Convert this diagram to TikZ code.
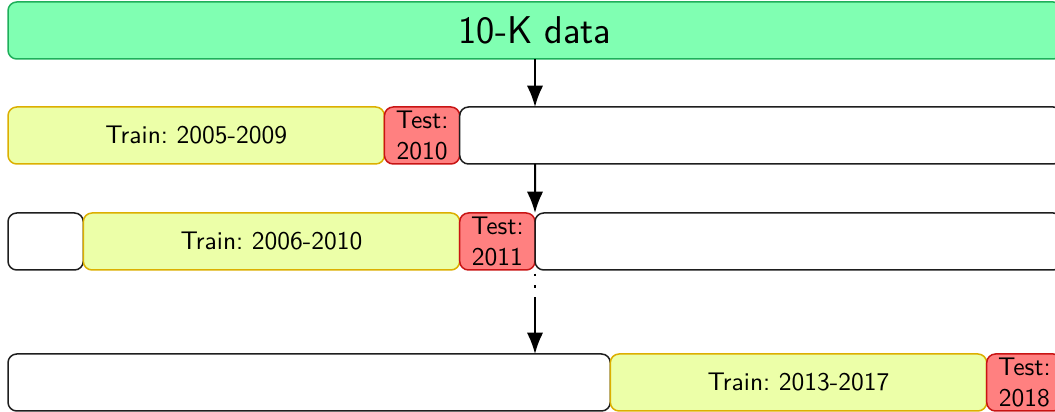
\documentclass[tikz,border=0pt]{standalone}
\usetikzlibrary{arrows.meta}
\definecolor{gfill}{RGB}{128,255,178}
\definecolor{gdraw}{RGB}{30,175,90}
\definecolor{yfill}{RGB}{236,255,168}
\definecolor{ydraw}{RGB}{220,175,0}
\definecolor{rfill}{RGB}{255,128,128}
\definecolor{rdraw}{RGB}{200,20,20}
\definecolor{kdraw}{RGB}{30,30,30}
\begin{document}
\frenchspacing
\begin{tikzpicture}[x=0.4pt,y=-0.4pt,
  box/.style={rectangle,rounded corners=3.5pt,line width=0.6pt,inner sep=0pt,outer sep=0pt,
    anchor=north west,minimum height=22.8pt,font=\sffamily\fontsize{10.2}{12.4}\selectfont,align=center},
  top/.style={box,fill=gfill,draw=gdraw,minimum width=421.6pt,font=\sffamily\fontsize{15.5}{18}\selectfont},
  trainbox/.style={box,fill=yfill,draw=ydraw,minimum width=150.57pt},
  testbox/.style={box,fill=rfill,draw=rdraw,minimum width=30.114pt},
  restbox/.style={box,fill=white,draw=kdraw,minimum width=#1*30.114pt},
  arr/.style={line width=0.8pt,-{Latex[length=8.5pt,width=6.5pt]}},
  dotline/.style={line width=1.1pt,dash pattern=on 1pt off 3.7pt}]
\useasboundingbox (0,0) rectangle (1055,412);
\node[top] (data) at (8,2) {10-K data};
% row 1
\node[trainbox] (r1a) at (8,107) {Train: 2005-2009};
\node[testbox] (r1b) at (r1a.north east) {Test:\\2010};
\node[restbox=8] (r1c) at (r1b.north east) {};
% row 2
\node[restbox=1] (r2a) at (8,213) {};
\node[trainbox] (r2b) at (r2a.north east) {Train: 2006-2010};
\node[testbox] (r2c) at (r2b.north east) {Test:\\2011};
\node[restbox=7] (r2d) at (r2c.north east) {};
% row 3
\node[restbox=8] (r3a) at (8,354) {};
\node[trainbox] (r3b) at (r3a.north east) {Train: 2013-2017};
\node[testbox] (r3c) at (r3b.north east) {Test:\\2018};
% connectors
\draw[arr] (data.south) -- (data.south |- r1c.north);
\draw[arr] (data.south |- r1c.south) -- (r2d.north west);
\coordinate (mid) at ([yshift=-12pt]r2d.south west);
\draw[dotline] ([yshift=-1.5pt]r2d.south west) -- (mid);
\draw[arr] (mid) -- (mid |- r3a.north);
\end{tikzpicture}
\end{document}
